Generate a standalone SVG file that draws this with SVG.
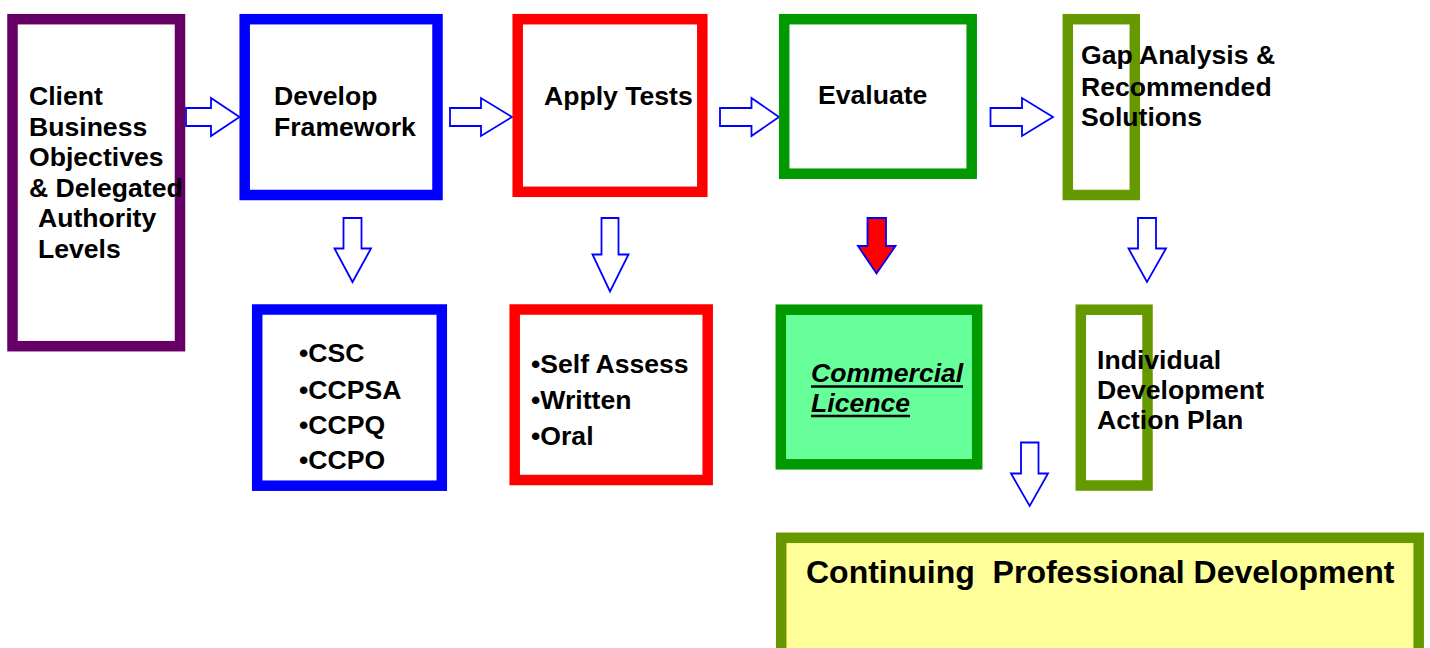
<svg xmlns="http://www.w3.org/2000/svg" width="1430" height="648" viewBox="0 0 1430 648">
  <style>
    .box { fill: #ffffff; stroke-width: 10.5; }
    .purple { stroke: #660066; }
    .blue { stroke: #0000ff; }
    .red { stroke: #ff0000; }
    .green { stroke: #009900; }
    .olive { stroke: #669900; }
    .lbl { font-family: "Liberation Sans", Arial, Helvetica, sans-serif; font-weight: bold; font-size: 26.6px; fill: #000000; }
    .arrow { fill: #ffffff; stroke: #0000ff; stroke-width: 1.8; stroke-linejoin: miter; }
    .arrow.hot { fill: #ff0000; }
    .uline { stroke: #000000; stroke-width: 2.3; }
  </style>

  <!-- block arrows between the stages -->
  <g id="connectors">
    <!-- horizontal flow -->
    <path class="arrow" d="M186,108 H211 V98 L239.5,117 L211,136 V126 H186 Z"/>
    <path class="arrow" d="M450,108 H481 V98 L512,117 L481,136 V126 H450 Z"/>
    <path class="arrow" d="M720,108 H751.5 V98 L779,117 L751.5,136 V126 H720 Z"/>
    <path class="arrow" d="M990.5,108 H1022 V98 L1053,117 L1022,136 V126 H990.5 Z"/>
    <!-- downward flow -->
    <path class="arrow" d="M343.5,218 H361.5 V248.5 H371 L352.5,282 L334.5,248.5 H343.5 Z"/>
    <path class="arrow" d="M601.5,218 H618.5 V254.5 H628.5 L610,291.5 L592.5,254.5 H601.5 Z"/>
    <path class="arrow hot" d="M867.5,218 H886 V246 H895.5 L876.5,273.5 L858,246 H867.5 Z"/>
    <path class="arrow" d="M1138,218 H1156 V248.5 H1166 L1147,282 L1128.5,248.5 H1138 Z"/>
    <path class="arrow" d="M1021,442.5 H1038.5 V473.5 H1048 L1029.7,506 L1011,473.5 H1021 Z"/>
  </g>

  <g id="client-objectives">
    <rect class="box purple" x="12.5" y="19.2" width="167.5" height="327"/>
    <text class="lbl">
      <tspan x="29" y="105">Client</tspan>
      <tspan x="29" y="135.5">Business</tspan>
      <tspan x="29" y="166">Objectives</tspan>
      <tspan x="29" y="196.5">&amp; Delegated</tspan>
      <tspan x="38" y="227">Authority</tspan>
      <tspan x="38" y="258">Levels</tspan>
    </text>
  </g>

  <g id="develop-framework">
    <rect class="box blue" x="244.7" y="19.2" width="192.8" height="175.8"/>
    <text class="lbl">
      <tspan x="274" y="105">Develop</tspan>
      <tspan x="274" y="135.5">Framework</tspan>
    </text>
  </g>

  <g id="apply-tests">
    <rect class="box red" x="517.7" y="19.2" width="184.6" height="172.6"/>
    <text class="lbl" x="544" y="105">Apply Tests</text>
  </g>

  <g id="evaluate">
    <rect class="box green" x="784.2" y="19.2" width="187.5" height="154.5"/>
    <text class="lbl" x="818" y="104">Evaluate</text>
  </g>

  <g id="gap-analysis">
    <rect class="box olive" x="1067.8" y="19.2" width="67" height="175.8"/>
    <text class="lbl">
      <tspan x="1081" y="64">Gap Analysis &amp;</tspan>
      <tspan x="1081" y="95.5">Recommended</tspan>
      <tspan x="1081" y="126">Solutions</tspan>
    </text>
  </g>

  <g id="framework-items">
    <rect class="box blue" x="257.2" y="309.5" width="184.6" height="176.2"/>
    <text class="lbl">
      <tspan x="299" y="362">•CSC</tspan>
      <tspan x="299" y="398.7">•CCPSA</tspan>
      <tspan x="299" y="434">•CCPQ</tspan>
      <tspan x="299" y="469">•CCPO</tspan>
    </text>
  </g>

  <g id="test-types">
    <rect class="box red" x="514.7" y="309.5" width="193" height="170.5"/>
    <text class="lbl">
      <tspan x="531" y="372.7">•Self Assess</tspan>
      <tspan x="531" y="409">•Written</tspan>
      <tspan x="531" y="444.7">•Oral</tspan>
    </text>
  </g>

  <g id="commercial-licence">
    <rect class="box green" x="780.8" y="309.7" width="196.4" height="154.6" style="fill:#66ff99"/>
    <text class="lbl" font-style="italic">
      <tspan x="811" y="381.7">Commercial</tspan>
      <tspan x="811" y="412.3">Licence</tspan>
    </text>
    <line class="uline" x1="811" y1="386.5" x2="963" y2="386.5"/>
    <line class="uline" x1="811" y1="416" x2="910" y2="416"/>
  </g>

  <g id="development-plan">
    <rect class="box olive" x="1080.8" y="309.7" width="66.7" height="175.8"/>
    <text class="lbl">
      <tspan x="1097" y="369">Individual</tspan>
      <tspan x="1097" y="399.3">Development</tspan>
      <tspan x="1097" y="428.5">Action Plan</tspan>
    </text>
  </g>

  <g id="cpd">
    <rect class="box olive" x="781.2" y="537.8" width="637.5" height="130" style="fill:#ffff99"/>
    <text class="lbl" x="806" y="582.7" style="font-size:32px" xml:space="preserve">Continuing  Professional Development</text>
  </g>
</svg>
